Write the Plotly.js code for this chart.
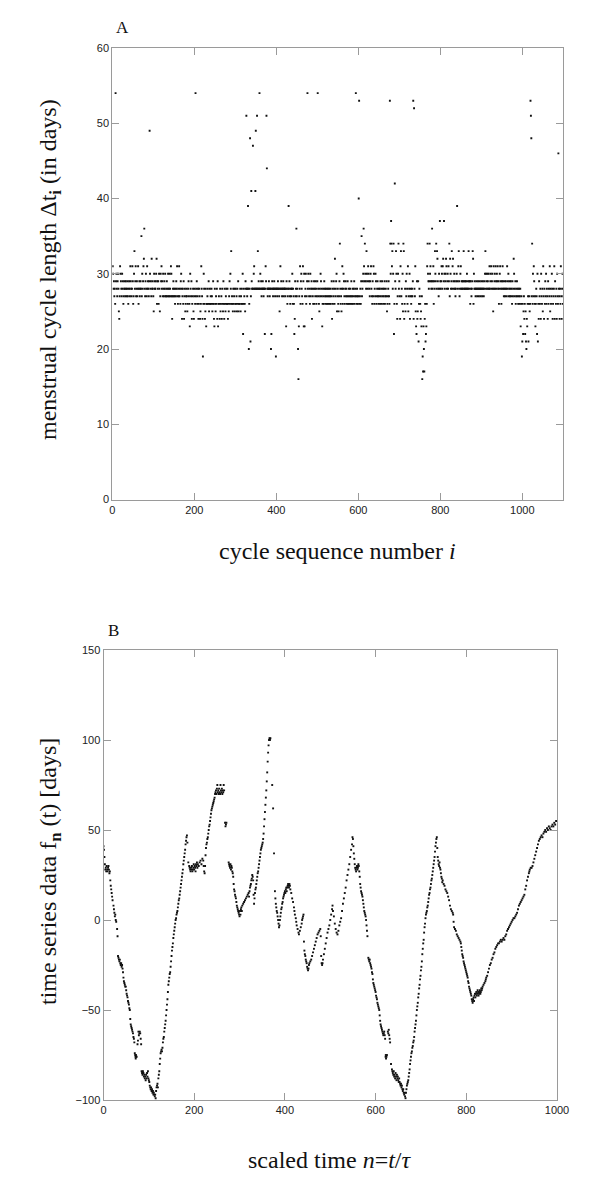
<!DOCTYPE html>
<html>
<head>
<meta charset="utf-8">
<script src="https://cdn.plot.ly/plotly-3.0.1.min.js"></script>
<style>body{margin:0;background:#fff}</style>
</head>
<body>
<div id="grafica" style="width:600px;height:1191px"></div>
<script>
// panel A: cycle length (days) for cycles 1..1100
const cycleLength = [
31,30,28,29,27,28,26,54,29,30, 28,27,29,30,28,25,24,27,31,30, 29,28,27,30,28,29,26,27,28,29, 28,27,29,28,27,28,29,27,26,28, 29,28,27,31,29,28,27,28,31,29,
26,27,30,33,28,29,31,27,28,29, 27,28,31,26,28,29,27,28,29,28, 35,27,30,28,29,31,32,36,28,27, 29,30,28,27,31,28,29,28,27,29, 49,30,28,29,27,32,28,29,28,27,
25,30,29,28,28,29,30,32,26,29, 28,29,26,30,28,25,27,30,29,31, 28,29,27,30,28,27,29,28,30,27, 27,28,29,27,28,30,27,28,27,30, 28,27,31,30,27,24,27,28,29,27,
28,27,26,28,27,29,28,31,27,26, 28,27,31,27,28,26,29,30,28,24, 27,28,26,29,24,27,28,25,26,27, 28,27,25,26,28,29,27,26,23,30, 28,27,29,24,26,27,28,25,24,27,
28,26,54,27,28,29,26,27,28,24, 26,28,27,24,25,26,31,28,27,24, 19,26,30,28,26,24,25,28,23,26, 26,27,28,26,29,25,26,28,26,27, 26,28,27,25,26,29,26,24,23,28,
26,25,27,26,28,24,29,23,26,27, 26,24,28,25,26,27,24,28,26,25, 29,26,24,28,26,25,27,28,26,26, 28,24,26,25,27,29,26,30,28,33, 26,27,26,25,28,26,27,28,25,26,
28,26,27,25,28,26,29,25,26,27, 26,28,25,27,26,28,26,30,22,26, 28,27,26,25,29,28,51,28,27,28, 39,28,20,26,28,48,21,27,41,29, 28,28,47,28,30,31,28,28,41,49,
28,28,51,28,33,28,29,28,54,28, 30,28,29,27,28,28,29,28,27,28, 28,22,28,31,29,51,44,28,27,28, 28,29,28,27,28,28,20,22,28,29, 28,27,28,28,29,28,27,28,19,28,
28,27,28,29,28,28,27,25,28,31, 28,29,28,27,28,28,29,27,28,28, 28,27,28,23,29,28,26,27,28,39, 28,29,27,26,28,27,28,28,30,26, 28,27,26,22,24,29,27,28,36,27,
28,29,20,16,23,27,28,31,26,29, 30,28,27,26,31,29,23,30,23,27, 28,30,26,27,29,54,28,30,29,27, 28,26,30,27,28,29,24,28,27,26, 28,29,26,28,27,29,28,26,27,29,
54,28,27,26,25,28,27,30,29,28, 27,23,26,28,27,26,29,28,27,28, 26,27,28,26,27,28,26,27,28,26, 27,28,26,27,29,24,28,26,27,29, 28,26,32,27,28,29,30,25,27,28,
26,25,27,29,34,28,26,27,25,28, 31,26,28,30,29,27,26,28,29,27, 28,26,27,29,26,27,28,26,27,28, 26,27,29,26,27,28,26,27,28,29, 26,27,28,54,27,26,28,27,26,27,
40,53,26,27,28,26,29,35,27,28, 29,30,36,31,29,34,30,29,28,33, 30,29,28,31,30,29,28,27,29,30, 31,28,27,26,29,27,31,30,26,28, 27,30,29,26,27,28,29,27,26,28,
27,28,26,29,27,28,26,29,27,28, 26,27,28,29,26,27,28,27,29,25, 26,27,28,29,27,26,53,34,30,37, 34,31,33,28,30,34,22,26,42,29, 28,33,30,26,24,27,30,34,28,29,
27,24,31,33,27,28,26,30,25,34, 33,24,26,28,25,29,27,30,28,26, 31,25,27,28,30,24,27,28,26,27, 28,27,29,53,24,52,28,27,31,25, 23,22,29,24,25,29,21,26,28,27,
26,24,25,23,27,16,19,17,23,20, 17,24,26,21,22,23,26,31,34,30, 29,28,29,34,30,31,29,28,29,36, 28,29,31,26,29,28,33,30,29,34, 28,33,32,29,28,27,30,28,37,29,
28,29,31,30,28,31,32,29,37,30, 28,29,30,32,31,28,29,30,28,31, 29,34,27,32,30,28,29,33,28,31, 32,29,28,30,29,28,27,28,29,30, 39,29,28,31,33,29,27,28,30,31,
28,29,28,29,28,29,33,28,29,28, 29,28,29,28,30,28,29,28,33,29, 28,29,26,29,28,27,28,29,33,32, 26,30,28,29,28,27,28,29,28,27, 28,29,28,27,28,29,28,27,28,29,
28,27,28,29,28,27,28,29,30,33, 28,30,29,28,30,29,28,30,28,31, 28,29,30,31,28,29,30,28,25,31, 28,29,30,28,31,29,28,30,29,31, 28,29,26,28,30,31,29,28,26,29,
28,31,29,28,27,28,29,27,28,29, 28,27,31,28,29,30,27,28,29,27, 28,29,27,28,26,29,27,28,32,30, 27,28,29,26,27,28,29,27,28,26, 27,28,26,27,28,23,26,27,19,21,
26,22,25,27,24,26,22,25,21,20, 24,23,26,27,21,26,27,25,26,53, 51,48,27,34,26,30,27,31,29,26, 27,23,26,28,27,22,30,21,26,24, 29,27,26,28,24,30,27,26,28,25,
31,27,24,28,26,29,27,30,26,28, 27,24,29,26,28,27,31,25,28,26, 27,30,28,24,26,27,28,31,24,29, 27,26,28,24,30,27,26,46,28,27, 24,28,26,31,27,24,28,30,26,27
];
const cycleIndex = cycleLength.map((v, i) => i + 1);

// panel B: scaled time n and series value f_n
const scaledTime = [
0,1,2,3,4,5,6,7,8,9,10,11,12,13,14,15,16,17,18,19,20,22,23,24,25,26,27,28,30,31,
32,33,34,35,36,37,38,39,40,41,42,43,44,45,46,47,48,49,50,51,52,53,54,55,56,57,58,59,60,61,62,63,64,65,66,67,68,
69,70,70.5,71,71.5,72,73,75,76,77,78,79,80,81,82,83,84,85,86,87,88,89,90,91,92,93,94,95,96,97,98,99,100,101,
102,103,104,105,106,107,108,109,110,111,112,113,114,115,116,117,118,119,120,121,122,123,
124,125,126,127,128,129,130,131,132,133,134,135,136,137,138,139,140,141,142,143,144,145,146,147,148,149,150,
151,152,153,154,155,156,157,158,159,160,161,162,163,164,165,166,167,168,169,170,171,172,173,174,175,176,177,178,179,180,181,182,183,184,185,
187,189,190,191,192,193,194,195,196,197,198,199,200,201,202,203,204,205,206,207,208,210,212,214,216,218,220,221,222,223,224,225,226,227,
228,229,230,231,232,233,234,235,236,237,238,239,240,241,242,243,244,245,246,247,248,249,250,251,252,253,254,255,256,257,258,259,260,261,262,263,264,265,266,268,269,270,271,
276,277,278,279,280,281,282,283,284,285,286,287,288,289,290,291,292,293,294,295,296,297,298,299,300,301,302,303,304,305,306,308,310,312,314,316,318,320,
321,322,323,324,325,326,327,328,329,330,331,332,333,334,335,336,337,338,339,340,341,342,343,344,345,346,347,348,349,350,351,352,353,354,355,356,357,358,359,360,361,362,363,364,365,366,367,368,
372,374,376,378,379,380,381,382,383,384,385,386,387,388,389,390,391,392,393,394,395,396,397,398,399,400,401,402,403,404,405,406,407,408,409,410,411,412,414,416,418,420,421,422,424,425,426,428,430,431,433,435,437,438,439,440,441,
442,443,444,445,446,447,448,449,450,451,452,453,454,456,458,460,462,464,466,468,470,472,474,476,478,479,480,481,482,483,484,486,488,490,492,494,496,498,500,502,504,505,506,508,510,512,514,516,518,520,522,524,526,528,530,532,534,536,538,540,542,544,546,548,549,550,551,552,553,554,555,556,557,558,559,560,561,562,563,564,565,
566,567,568,569,570,571,572,573,574,575,576,577,578,579,580,581,582,584,585,586,587,588,589,590,591,592,593,594,595,596,597,598,599,600,601,602,603,604,605,606,607,608,609,610,611,612,613,614,615,616,617,618,619,620,621,622,622.5,623,624,625,627,628,629,630,631,632,
634,636,637,638,639,640,641,642,643,644,645,646,647,648,649,650,651,652,653,654,655,656,657,658,659,660,661,662,663,664,665,666,667,668,669,670,671,672,673,
674,675,676,677,678,679,680,681,682,683,684,685,686,687,688,689,690,691,692,693,694,695,696,697,698,699,700,701,702,703,704,705,706,707,708,709,710,711,712,713,714,715,716,717,718,719,720,721,722,723,724,725,726,727,728,729,730,731,732,733,734,735,
736,737,738,739,740,741,742,743,744,745,746,747,748,750,752,754,756,758,760,762,764,766,768,770,771,772,773,775,777,779,781,783,785,787,788,789,790,791,792,793,794,795,796,797,798,799,800,801,802,803,804,805,806,807,808,809,810,811,812,813,814,815,816,817,818,819,820,
821,822,823,824,825,826,827,828,829,830,831,832,833,834,835,836,838,840,842,843,844,846,848,850,852,854,856,858,860,862,864,866,868,870,872,874,876,878,880,882,884,886,888,890,892,894,896,898,900,
902,904,906,908,910,912,914,916,918,920,922,924,926,928,930,932,934,936,938,939,940,942,944,946,948,950,952,954,956,958,960,962,964,966,968,970,972,974,976,978,980,982,984,986,988,990,992,994,996,998,1000
];
const seriesValue = [
41,39,35,31,28,29,27,30,28,27,29,30,28,26,27,22,19,17,15,13,11,8,6,4,2,3,0,-1,-5,-9,
-20,-21,-22,-23,-22,-24,-25,-24,-26,-25,-27,-29,-32,-34,-35,-36,-37,-37,-39,-41,-42,-43,-45,-46,-47,-49,-50,-55,-58,-59,-60,-61,-62,-63,-65,-66,-68,
-74,-75,-76,-77,-75,-76,-76,-69,-67,-62,-64,-63,-62,-63,-66,-69,-84,-85,-86,-84,-85,-87,-86,-88,-87,-89,-86,-88,-85,-87,-84,-88,-89,-90,
-92,-93,-94,-93,-95,-94,-96,-95,-97,-96,-97,-98,-97,-99,-95,-93,-92,-91,-93,-88,-86,-84,
-80,-77,-74,-73,-72,-73,-71,-68,-66,-65,-62,-60,-58,-56,-53,-50,-47,-44,-40,-36,-34,-32,-30,-29,-26,-23,-20,
-17,-15,-13,-10,-8,-6,-4,-2,0,1,3,4,5,7,9,11,12,14,16,18,20,22,24,26,28,31,33,35,37,39,42,44,46,47,43,
32,30,29,28,27,29,28,30,27,28,29,31,28,30,29,27,31,30,32,29,31,30,32,33,31,34,33,30,27,26,30,36,40,42,
43,45,46,48,50,52,53,55,57,59,61,62,63,64,65,66,67,68,70,71,72,70,73,75,71,72,70,73,71,70,75,72,71,73,70,72,71,75,72,54,52,53,54,
32,31,30,29,31,28,30,29,27,26,24,20,17,16,14,13,12,10,8,7,6,5,4,3,2,5,3,6,7,5,8,9,10,11,12,13,14,15,
13,16,18,19,20,22,23,25,24,22,14,9,12,15,17,18,20,22,24,26,27,29,31,33,35,37,39,40,41,42,43,45,48,52,56,60,64,68,72,77,82,88,93,97,100,101,100,101,
75,62,37,16,12,9,7,5,4,2,0,-2,-4,-3,0,2,4,6,7,9,10,12,13,14,15,16,15,17,18,16,18,19,20,19,18,20,19,17,15,12,10,7,5,3,1,-1,-3,-5,-7,-8,-6,-4,-2,0,1,2,3,
-12,-17,-19,-20,-22,-23,-24,-26,-27,-28,-27,-25,-24,-23,-22,-20,-18,-16,-14,-12,-10,-8,-7,-6,-5,-9,-20,-24,-25,-24,-22,-19,-16,-13,-10,-7,-5,-3,0,3,6,8,5,2,-2,-5,-7,-8,-6,-3,-1,1,5,9,12,15,18,22,25,28,31,35,39,42,46,45,41,37,34,31,29,28,27,29,30,28,29,31,30,27,24,
20,18,16,15,14,13,11,9,7,5,4,3,2,0,-3,-6,-9,-21,-22,-23,-22,-24,-25,-26,-27,-29,-30,-33,-35,-36,-37,-38,-39,-40,-42,-43,-44,-46,-47,-48,-49,-50,-53,-56,-58,-59,-60,-61,-62,-63,-64,-63,-62,-64,-66,-76,-75,-77,-76,-75,-62,-63,-61,-64,-66,-68,
-80,-83,-84,-85,-86,-84,-87,-86,-88,-85,-87,-89,-86,-88,-87,-89,-90,-88,-90,-91,-92,-91,-93,-92,-94,-95,-94,-96,-97,-96,-98,-99,-96,-94,-92,-91,-90,-89,-87,
-85,-83,-80,-78,-76,-74,-73,-71,-70,-68,-67,-65,-62,-60,-58,-56,-53,-50,-48,-46,-43,-41,-38,-36,-33,-31,-28,-26,-23,-19,-16,-13,-11,-7,-4,-2,1,3,4,5,7,8,10,12,14,15,17,18,20,22,23,25,27,29,31,33,35,38,41,43,45,46,
40,35,33,31,30,32,29,28,26,24,23,21,22,20,19,17,16,15,13,11,8,6,5,4,3,-1,-4,-5,-6,-8,-9,-10,-11,-12,-13,-15,-17,-19,-20,-21,-23,-24,-25,-26,-27,-28,-29,-30,-31,-32,-34,-35,-37,-38,-39,-40,-41,-42,-44,-45,-46,-44,-43,-45,-42,-41,-43,
-41,-40,-42,-41,-39,-40,-42,-41,-40,-39,-41,-40,-38,-39,-38,-37,-36,-35,-34,-33,-32,-31,-29,-27,-25,-24,-22,-21,-19,-18,-16,-15,-14,-13,-13,-12,-11,-12,-11,-10,-11,-9,-8,-6,-5,-4,-3,-2,-1,
0,1,1,2,3,4,6,8,9,10,11,12,13,14,17,19,22,24,26,27,28,29,29,30,32,34,36,38,40,42,44,45,46,47,46,48,49,50,49,51,50,52,51,50,52,53,52,54,53,55,55
];

const gris = '#9a9a9a';
const fuenteTick = {family: 'Liberation Sans, Arial, sans-serif', size: 11, color: '#222'};
const fuenteTitulo = {family: 'Liberation Serif, Times New Roman, serif', size: 24, color: '#111'};
const fuenteLetra = {family: 'Liberation Serif, Times New Roman, serif', size: 17, color: '#111'};

function eje(extra) {
    return Object.assign({
        showline: true, linecolor: gris, linewidth: 1, mirror: 'ticks',
        ticks: 'inside', ticklen: 7, tickcolor: gris, tickwidth: 1,
        showgrid: false, zeroline: false, tickfont: fuenteTick, fixedrange: true
    }, extra);
}

const puntos = {symbol: 'square', size: 1.9, color: '#111', line: {width: 0}};

const trace1 = {
    x: cycleIndex, y: cycleLength, mode: 'markers', type: 'scatter',
    marker: puntos, xaxis: 'x', yaxis: 'y', hoverinfo: 'skip'
};
const trace2 = {
    x: scaledTime, y: seriesValue, mode: 'markers', type: 'scatter',
    marker: puntos, xaxis: 'x2', yaxis: 'y2', hoverinfo: 'skip'
};

const H = 1191, W = 600;
const px = v => v / W;
const py = v => 1 - v / H;

function nota(text, x, y, font, angle) {
    return {text: text, x: px(x), y: py(y), xref: 'paper', yref: 'paper', showarrow: false,
            xanchor: 'center', yanchor: 'middle', textangle: angle || 0, font: font};
}

const layout = {
    width: W, height: H,
    margin: {l: 0, r: 0, t: 0, b: 0},
    paper_bgcolor: '#fff', plot_bgcolor: '#fff',
    showlegend: false,
    xaxis: eje({domain: [px(112.3), px(563.3)], range: [0, 1100], tickvals: [0, 200, 400, 600, 800, 1000], anchor: 'y'}),
    yaxis: eje({domain: [py(499.5), py(48)], range: [0, 60], dtick: 10, anchor: 'x'}),
    xaxis2: eje({domain: [px(103.5), px(557)], range: [0, 1000], dtick: 200, anchor: 'y2'}),
    yaxis2: eje({domain: [py(1100), py(650)], range: [-100, 150], dtick: 50, anchor: 'x2'}),
    annotations: [
        nota('A', 123, 28, fuenteLetra),
        nota('B', 113, 630, fuenteLetra),
        nota('cycle sequence number <i>i</i>', 337, 551, fuenteTitulo),
        nota('menstrual cycle length \u0394t<sub><b>i</b></sub> (in days)', 50, 270, fuenteTitulo, -90),
        nota('scaled time <i>n</i>=<i>t</i>/<i>\u03c4</i>', 330, 1160, fuenteTitulo),
        nota('time series data f<sub><b>n</b></sub> (t) [days]', 50, 872, fuenteTitulo, -90)
    ]
};

Plotly.newPlot('grafica', [trace1, trace2], layout, {staticPlot: true});
</script>
</body>
</html>
